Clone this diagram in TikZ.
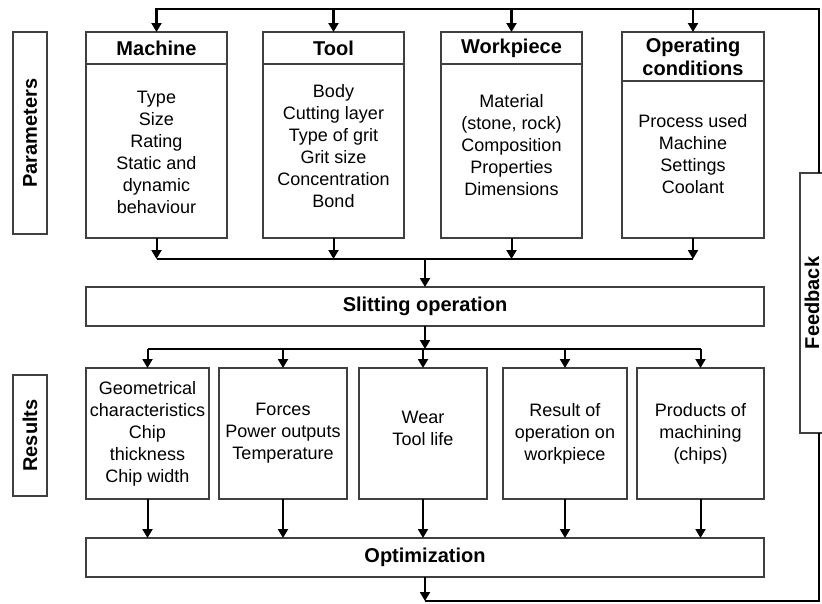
\documentclass[tikz,border=0pt]{standalone}
\usepackage{fontspec}
\setmainfont{Liberation Sans}
\usetikzlibrary{arrows.meta}
\begin{document}
\begin{tikzpicture}[x=1pt,y=-1pt,
  box/.style={draw=black!75, line width=1.2pt, inner sep=0pt, outer sep=0pt},
  hdr/.style={font=\fontsize{20}{23}\selectfont\bfseries, align=center},
  txt/.style={font=\fontsize{18}{22}\selectfont, align=center, inner sep=0pt},
  conn/.style={line width=2pt, draw=black},
  fbconn/.style={line width=2.6pt, draw=black},
  arr/.style={conn, -{Triangle[width=10pt,length=9pt]}},
  fbarr/.style={fbconn, -{Triangle[width=10pt,length=9pt]}},
]
\useasboundingbox (0,0) rectangle (822,603);

% side labels
\node[box, minimum width=34pt, minimum height=202pt] (plab) at (30,133) {};
\node[hdr, rotate=90] (plabt) at (plab) {Parameters};
\node[box, minimum width=34pt, minimum height=121pt] (rlab) at (30,435.5) {};
\node[hdr, rotate=90] (rlabt) at (rlab) {Results};

% parameter boxes: headers
\node[box, hdr, minimum width=141pt, minimum height=32pt] (mh) at (156.5,48) {Machine};
\node[box, hdr, minimum width=141pt, minimum height=32pt] (th) at (333.5,48) {Tool};
\node[box, hdr, minimum width=141pt, minimum height=32pt] (wh) at (511.5,48) {Workpiece};
\node[box, hdr, minimum width=142pt, minimum height=49pt] (oh) at (693,56.5) {Operating\\conditions};
% bodies
\node[box, minimum width=141pt, minimum height=174pt] (mb) at (156.5,151) {};
\node[box, minimum width=141pt, minimum height=174pt] (tb) at (333.5,151) {};
\node[box, minimum width=141pt, minimum height=174pt] (wb) at (511.5,151) {};
\node[box, minimum width=142pt, minimum height=157pt] (ob) at (693,159.5) {};
\node[txt] (mt) at (156.5,152) {Type\\Size\\Rating\\Static and\\dynamic\\behaviour};
\node[txt] (tt) at (333.5,146.5) {Body\\Cutting layer\\Type of grit\\Grit size\\Concentration\\Bond};
\node[txt] (wt) at (511.5,145) {Material\\(stone, rock)\\Composition\\Properties\\Dimensions};
\node[txt] (ot) at (693,154) {Process used\\Machine\\Settings\\Coolant};

% slitting and optimization
\node[box, hdr, minimum width=678pt, minimum height=39pt] (sl) at (425,306.5) {Slitting operation};
\node[box, hdr, minimum width=678pt, minimum height=39pt] (opt) at (425,557.5) {Optimization};

% result boxes
\node[box, txt, minimum width=123pt, minimum height=131pt] (r1) at (147.5,433.5) {Geometrical\\characteristics\\Chip\\thickness\\Chip width};
\node[box, txt, minimum width=128pt, minimum height=131pt] (r2) at (283,433.5) {Forces\\Power outputs\\Temperature};
\node[box, minimum width=128pt, minimum height=131pt] (r3) at (423,433.5) {};
\node[txt] (r3t) at (423,428) {Wear\\Tool life};
\node[box, txt, minimum width=124pt, minimum height=131pt] (r4) at (565,433.5) {Result of\\operation on\\workpiece};
\node[box, txt, minimum width=127pt, minimum height=131pt] (r5) at (700.5,433.5) {Products of\\machining\\(chips)};

% feedback box
\node[box, minimum width=28pt, minimum height=260pt] (fb) at (814,303) {};
\node[hdr, rotate=90, inner sep=0pt] (fbt) at (812,303) {Feedback};

% bus coordinates
\coordinate (topbus) at (0,9);
\coordinate (pbus) at (0,259);
\coordinate (rbus) at (0,349);
\coordinate (botbus) at (0,601);
\coordinate (fbx) at (819,0);

% feedback loop top
\draw[fbarr] (fb.north -| fbx) -- (fbx |- topbus) -- (mh.north |- topbus) -- (mh.north);
\draw[fbarr] (th.north |- topbus) -- (th.north);
\draw[fbarr] (wh.north |- topbus) -- (wh.north);
\draw[fbarr] (oh.north |- topbus) -- (oh.north);

% parameters to slitting
\draw[arr] (mb.south) -- (mb.south |- pbus);
\draw[arr] (tb.south) -- (tb.south |- pbus);
\draw[arr] (wb.south) -- (wb.south |- pbus);
\draw[arr] (ob.south) -- (ob.south |- pbus);
\draw[conn] (mb.south |- pbus) -- (ob.south |- pbus);
\draw[arr] (sl.north |- pbus) -- (sl.north);

% slitting to results
\draw[arr] (sl.south) -- (sl.south |- rbus);
\draw[conn] (r1.north |- rbus) -- (r5.north |- rbus);
\foreach \r in {r1,r2,r3,r4,r5} {
  \draw[arr] (\r.north |- rbus) -- (\r.north);
  \draw[arr] (\r.south) -- (\r.south |- opt.north);
}

% optimization back to feedback
\draw[arr] (opt.south) -- (opt.south |- botbus);
\draw[fbconn] (opt.south |- botbus) -| (fb.south -| fbx);
\end{tikzpicture}
\end{document}
